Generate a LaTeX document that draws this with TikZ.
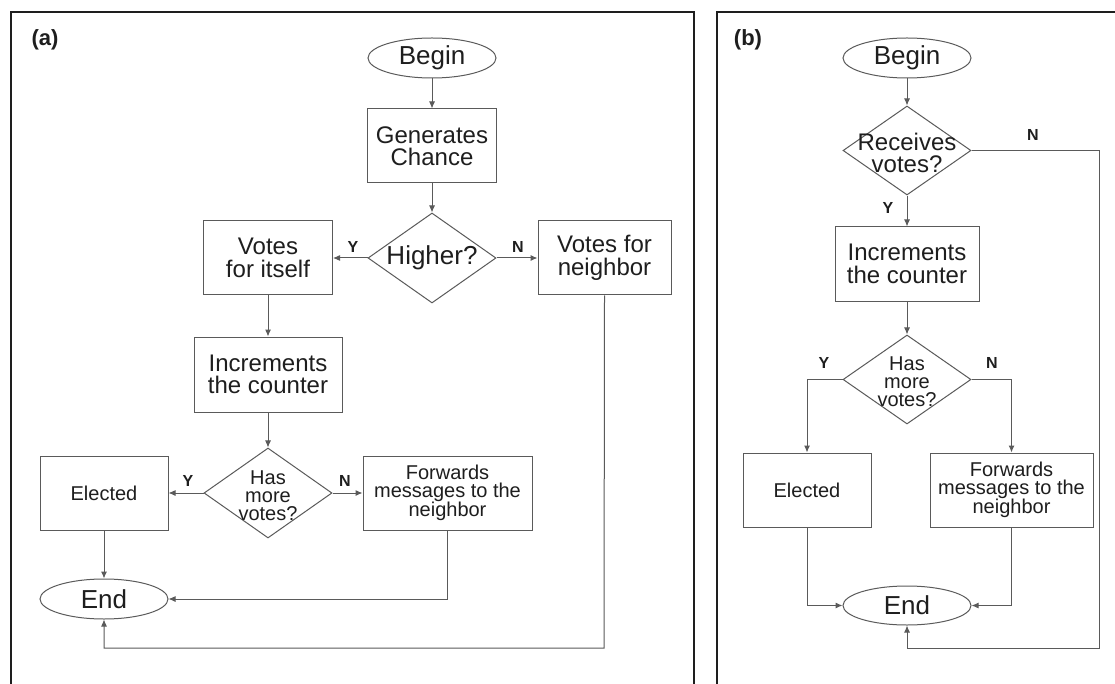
\documentclass[tikz,border=0pt]{standalone}
\usepackage{fontspec}
\setmainfont{Liberation Sans}
\usetikzlibrary{shapes.geometric,arrows.meta}
\definecolor{ln}{HTML}{5A5A5A}
\definecolor{tx}{HTML}{1E1E1E}
\tikzset{
  box/.style={draw=ln,line width=1pt,rectangle,inner sep=0pt,align=center,text=tx,font=\fontsize{24}{22.5}\selectfont},
  sbox/.style={box,font=\fontsize{20}{18}\selectfont},
  term/.style={draw=ln,line width=1pt,ellipse,inner sep=0pt,minimum width=128pt,minimum height=40pt,text=tx,font=\fontsize{26}{24}\selectfont},
  dia/.style={draw=ln,line width=1pt,diamond,inner sep=0pt,minimum width=128pt,minimum height=90pt},
  diatext/.style={inner sep=0pt,align=center,text=tx},
  lab/.style={inner sep=0pt,text=tx,font=\fontsize{16}{16}\selectfont\bfseries},
  conn/.style={draw=ln,line width=1pt,-{Latex[length=7pt,width=6pt]}},
  frame/.style={draw=tx,line width=2pt},
  panel/.style={inner sep=0pt,text=tx,font=\fontsize{22}{22}\selectfont\bfseries}
}
\begin{document}
\begin{tikzpicture}[x=1pt,y=-1pt]
\useasboundingbox (0,0) rectangle (1115,684);
\clip (0,0) rectangle (1115,684);
\fill[white] (0,0) rectangle (1115,684);
% frames
\draw[frame] (11,720) -- (11,12) -- (694,12) -- (694,720);
\draw[frame] (717,720) -- (717,12) -- (1140,12);
\node[panel] (pa) at (45,40) {(a)};
\node[panel] (pb) at (748,40) {(b)};

% ---------- panel (a)
\node[term] (aBegin) at (432,58) {Begin};
\node[box,minimum width=129pt,minimum height=74pt] (aGen) at (432,146) {Generates\\Chance};
\node[dia] (aHigh) at (432,258) {};
\node[diatext,font=\fontsize{26}{24}\selectfont] (aHighT) at (aHigh) {Higher?};
\node[box,minimum width=133pt,minimum height=74pt] (aNeigh) at (604.5,258) {Votes for\\neighbor};
\node[box,minimum width=129pt,minimum height=74pt] (aSelf) at (268,258) {Votes\\for itself};
\node[box,minimum width=148pt,minimum height=75pt] (aInc) at (268,374.5) {Increments\\the counter};
\node[dia] (aHas) at (268,493) {};
\node[diatext,font=\fontsize{20}{18}\selectfont] (aHasT) at (268,496) {Has\\more\\votes?};
\node[sbox,minimum width=128pt,minimum height=74pt] (aElec) at (104,493) {Elected};
\node[sbox,minimum width=169pt,minimum height=74pt] (aFwd) at (447.5,493) {Forwards\\messages to the\\neighbor};
\node[term] (aEnd) at (104,599) {End};
\coordinate (aLoop) at (604,648);

\draw[conn] (aBegin) -- (aGen);
\draw[conn] (aGen) -- (aHigh);
\draw[conn] (aHigh.west) -- (aSelf.east);
\draw[conn] (aHigh.east) -- (aNeigh.west);
\draw[conn] (aSelf) -- (aInc);
\draw[conn] (aInc) -- (aHas);
\draw[conn] (aHas.west) -- (aElec.east);
\draw[conn] (aHas.east) -- (aFwd.west);
\draw[conn] (aElec) -- (aEnd);
\draw[conn] (aFwd.south) |- (aEnd.east);
\draw[conn] (aNeigh.south) -- (aLoop) -| (aEnd.south);
\node[lab] (aY1) at (353,247) {Y};
\node[lab] (aN1) at (518,247) {N};
\node[lab] (aY2) at (188,481) {Y};
\node[lab] (aN2) at (345,481) {N};

% ---------- panel (b)
\node[term] (bBegin) at (907,58) {Begin};
\node[dia,minimum height=89pt] (bRec) at (907,150.5) {};
\node[diatext,font=\fontsize{24}{22.5}\selectfont] (bRecT) at (907,153) {Receives\\votes?};
\node[box,minimum width=144pt,minimum height=74pt] (bInc) at (907,264) {Increments\\the counter};
\node[dia,minimum height=89pt] (bHas) at (907,379.5) {};
\node[diatext,font=\fontsize{20}{18}\selectfont] (bHasT) at (907,382) {Has\\more\\votes?};
\node[sbox,minimum width=128pt,minimum height=74pt] (bElec) at (807,490) {Elected};
\node[sbox,minimum width=163pt,minimum height=74pt] (bFwd) at (1011.5,490) {Forwards\\messages to the\\neighbor};
\node[term,minimum height=39pt] (bEnd) at (907,605.5) {End};
\coordinate (bC1) at (1099,150.5);
\coordinate (bC2) at (1099,648);

\draw[conn] (bBegin) -- (bRec);
\draw[conn] (bRec) -- (bInc);
\draw[conn] (bInc) -- (bHas);
\draw[conn] (bHas.west) -| (bElec.north);
\draw[conn] (bHas.east) -| (bFwd.north);
\draw[conn] (bElec.south) |- (bEnd.west);
\draw[conn] (bFwd.south) |- (bEnd.east);
\draw[conn] (bRec.east) -- (bC1) -- (bC2) -| (bEnd.south);
\node[lab] (bY1) at (888,208) {Y};
\node[lab] (bN1) at (1033,135) {N};
\node[lab] (bY2) at (824,363) {Y};
\node[lab] (bN2) at (992,363) {N};
\end{tikzpicture}
\end{document}
